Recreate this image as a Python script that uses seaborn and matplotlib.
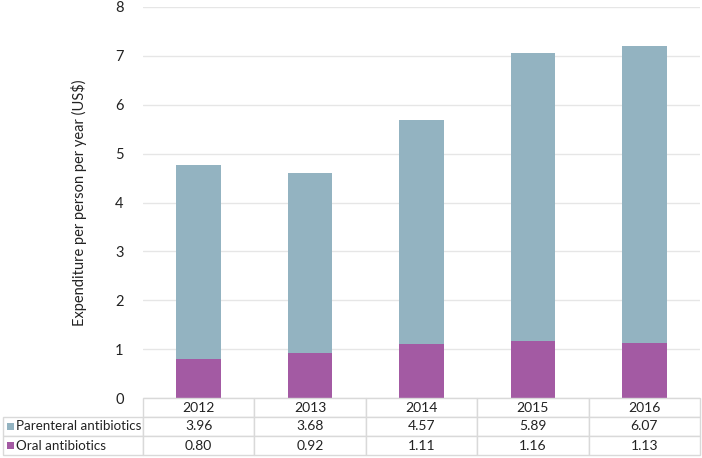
import matplotlib
matplotlib.use('Agg')
import matplotlib.pyplot as plt
import matplotlib.patches as mpatches
import seaborn as sns
import pandas as pd

years = ['2012', '2013', '2014', '2015', '2016']
parenteral = [3.96, 3.68, 4.57, 5.89, 6.07]
oral = [0.80, 0.92, 1.11, 1.16, 1.13]
series_names = ['Parenteral antibiotics', 'Oral antibiotics']
y_ticks = [0, 1, 2, 3, 4, 5, 6, 7, 8]

par_color = '#93b3c1'
oral_color = '#a35aa3'

sns.set_style('white')
plt.rcParams['font.family'] = ['Lato', 'DejaVu Sans']

df = pd.DataFrame({'year': years, 'parenteral': parenteral, 'oral': oral})
df['total'] = df['parenteral'] + df['oral']

W, H = 702, 458
fig = plt.figure(figsize=(W / 100, H / 100), dpi=100)
ax = fig.add_axes([143 / W, 1 - 398 / H, 557 / W, 391 / H])

sns.barplot(data=df, x='year', y='total', color=par_color, width=0.4,
            saturation=1, linewidth=0, ax=ax, zorder=3)
sns.barplot(data=df, x='year', y='oral', color=oral_color, width=0.4,
            saturation=1, linewidth=0, ax=ax, zorder=3)

ax.set_ylim(0, 8)
ax.set_yticks(y_ticks)
ax.set_yticklabels([str(t) for t in y_ticks], fontsize=10.5, color='#222222')
ax.tick_params(axis='y', length=0, pad=14)
ax.set_xticks([])
ax.set_xlabel('')
ax.set_ylabel('Expenditure per person per year (US$)', fontsize=10.5,
              color='#222222', labelpad=20)
ax.grid(axis='y', color='#e6e6e6', linewidth=1, zorder=0)
for s in ax.spines.values():
    s.set_visible(False)
ax.set_xlim(-0.5, 4.5)

# data table below the plot
tab_ax = fig.add_axes([3 / W, 1 - 455 / H, 697 / W, 57 / H])
tab_ax.axis('off')
cell_text = [[''] + years,
             [series_names[0]] + [f'{v:.2f}' for v in parenteral],
             [series_names[1]] + [f'{v:.2f}' for v in oral]]
first_w = 140 / 697
other_w = (1 - first_w) / 5
tbl = tab_ax.table(cellText=cell_text, bbox=[0, 0, 1, 1],
                   colWidths=[first_w] + [other_w] * 5, cellLoc='center')
tbl.auto_set_font_size(False)
for (r, c), cell in tbl.get_celld().items():
    cell.set_edgecolor('#d9d9d9')
    cell.set_linewidth(1)
    cell.get_text().set_fontsize(10)
    cell.get_text().set_color('#222222')
    if c == 0:
        cell.get_text().set_ha('left')
        cell._loc = 'left'
        cell.PAD = 0.09
        cell.get_text().set_fontsize(9.6)
    if r == 0 and c == 0:
        cell.visible_edges = ''

# legend keys in the row labels
row_h = 1 / 3
for i, col in enumerate([par_color, oral_color]):
    yc = 1 - row_h * (i + 1.5)
    tab_ax.add_patch(mpatches.Rectangle((4 / 697, yc - 3.5 / 57), 7 / 697, 7 / 57,
                                        facecolor=col, edgecolor='none',
                                        transform=tab_ax.transAxes, zorder=5))

fig.savefig('out.png', dpi=100)
